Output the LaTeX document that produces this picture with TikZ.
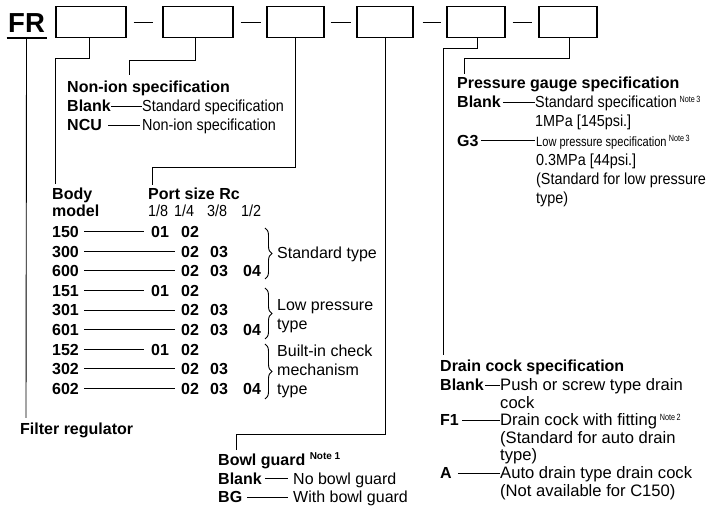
\documentclass[tikz,border=0pt]{standalone}
\usepackage{fontspec}
\usepackage{graphicx}
\setmainfont{Liberation Sans}
\newfontfamily\condfont[FakeStretch=0.9]{Liberation Sans}
\newfontfamily\notefont[FakeStretch=0.8]{Liberation Sans}
\usetikzlibrary{decorations.pathreplacing}
\newcommand\fReg{\fontsize{16}{19}\selectfont}
\newcommand\fBold{\fontsize{16}{19}\selectfont\bfseries}
\newcommand\fCond{\condfont\fontsize{16}{19}\selectfont}
\newcommand\fLow{\fontsize{13.5}{15}\selectfont}
\newcommand\fDrain{\fontsize{16.6}{19}\selectfont}
\newcommand\nt[1]{\,\raisebox{5pt}{\notefont\fontsize{9}{10}\selectfont #1}}
\newcommand\ntb[1]{\raisebox{6pt}{\fontsize{10}{11}\selectfont\bfseries #1}}
\tikzset{
  codebox/.style={draw, line width=1.1pt, minimum width=#1, minimum height=31pt, inner sep=0pt},
  tx/.style={anchor=base west, inner sep=0pt, text height=11.5pt, text depth=0pt},
  ln/.style={line width=0.9pt},
  brc/.style={line width=0.9pt, decorate, decoration={brace, amplitude=7pt}},
}
\begin{document}
\begin{tikzpicture}[x=1pt,y=-1pt]
\fill[white] (0,0) rectangle (713,510);
\useasboundingbox (0,0) rectangle (713,510);

% ---- top code line ----
\node[tx, font=\fontsize{27.5}{30}\selectfont\bfseries, inner xsep=1.5pt, inner ysep=5pt] (fr) at (6.5,33) {FR};
\draw[line width=1.5pt] (fr.south west) -- (fr.south east);
\node[codebox=70pt] (b1) at (91,22) {};
\node[codebox=70pt] (b2) at (198,22) {};
\node[codebox=57pt] (b3) at (295.5,22) {};
\node[codebox=56pt] (b4) at (385,22) {};
\node[codebox=58pt] (b5) at (476,22) {};
\node[codebox=58pt] (b6) at (568,22) {};
\draw[ln, shorten <=7pt, shorten >=9pt] (b1.east) -- (b2.west);
\draw[ln, shorten <=7pt, shorten >=5pt] (b2.east) -- (b3.west);
\draw[ln, shorten <=6pt, shorten >=5pt] (b3.east) -- (b4.west);
\draw[ln, shorten <=9pt, shorten >=5pt] (b4.east) -- (b5.west);
\draw[ln, shorten <=7pt, shorten >=6pt] (b5.east) -- (b6.west);

% ---- leader coordinates ----
\coordinate (e0) at (26,418);
\coordinate (k1) at (55,58);   \coordinate (e1) at (55,184);
\coordinate (k2) at (129,60);  \coordinate (e2) at (129,75);
\coordinate (k3) at (152,167); \coordinate (e3) at (152,185);
\coordinate (k4) at (236,434); \coordinate (e4) at (236,450);
\coordinate (k5) at (443,48);  \coordinate (e5) at (443,355);
\coordinate (k6) at (464,58);  \coordinate (e6) at (464,74);
\draw[ln] (fr.south) -- (e0);
\draw[ln] ([xshift=-2pt]b1.south) |- (k1) -- (e1);
\draw[ln] ([xshift=-3pt]b2.south) |- (k2) -- (e2);
\draw[ln] (b3.south) |- (k3) -- (e3);
\draw[ln] ([xshift=0.5pt]b4.south) |- (k4) -- (e4);
\draw[ln] ([xshift=1pt]b5.south) |- (k5) -- (e5);
\draw[ln] ([xshift=1pt]b6.south) |- (k6) -- (e6);

% ---- Non-ion specification ----
\node[tx, font=\fBold] (nih) at (67,93) {Non-ion specification};
\node[tx, font=\fBold] (nib) at (67,112) {Blank};
\node[tx, font=\fCond] (nibt) at (142,112) {Standard specification};
\node[tx, font=\fBold] (nin) at (67,131) {NCU};
\node[tx, font=\fCond] (nint) at (142,131) {Non-ion specification};
\draw[ln] ([xshift=0pt]nib.east) -- (nibt.west);
\draw[ln] ([xshift=6pt]nin.east) -- ([xshift=-2pt]nint.west);

% ---- Body model / Port size ----
\node[tx, font=\fBold] (body) at (52,200) {Body};
\node[tx, font=\fBold] (model) at (52,217) {model};
\node[tx, font=\fBold] (port) at (148,200) {Port size Rc};
\node[tx, font=\fCond] (h1) at (148,217) {1/8};
\node[tx, font=\fCond] (h2) at (174,217) {1/4};
\node[tx, font=\fCond] (h3) at (207,217) {3/8};
\node[tx, font=\fCond] (h4) at (241,217) {1/2};

% rows
\node[tx, font=\fBold] (m150) at (52,237.5) {150};
\node[tx, font=\fBold] (c150a) at (151,237.5) {01};
\node[tx, font=\fBold] (c150b) at (181,237.5) {02};
\draw[ln] ([xshift=5pt]m150.east) -- ([xshift=-7pt]c150a.west);

\node[tx, font=\fBold] (m300) at (52,257.1) {300};
\node[tx, font=\fBold] (c300a) at (181,257.1) {02};
\node[tx, font=\fBold] (c300b) at (210,257.1) {03};
\draw[ln] ([xshift=5pt]m300.east) -- ([xshift=-6pt]c300a.west);

\node[tx, font=\fBold] (m600) at (52,276.7) {600};
\node[tx, font=\fBold] (c600a) at (181,276.7) {02};
\node[tx, font=\fBold] (c600b) at (210,276.7) {03};
\node[tx, font=\fBold] (c600c) at (243,276.7) {04};
\draw[ln] ([xshift=5pt]m600.east) -- ([xshift=-6pt]c600a.west);

\node[tx, font=\fBold] (m151) at (52,296.3) {151};
\node[tx, font=\fBold] (c151a) at (151,296.3) {01};
\node[tx, font=\fBold] (c151b) at (181,296.3) {02};
\draw[ln] ([xshift=5pt]m151.east) -- ([xshift=-7pt]c151a.west);

\node[tx, font=\fBold] (m301) at (52,315.9) {301};
\node[tx, font=\fBold] (c301a) at (181,315.9) {02};
\node[tx, font=\fBold] (c301b) at (210,315.9) {03};
\draw[ln] ([xshift=5pt]m301.east) -- ([xshift=-6pt]c301a.west);

\node[tx, font=\fBold] (m601) at (52,335.5) {601};
\node[tx, font=\fBold] (c601a) at (181,335.5) {02};
\node[tx, font=\fBold] (c601b) at (210,335.5) {03};
\node[tx, font=\fBold] (c601c) at (243,335.5) {04};
\draw[ln] ([xshift=5pt]m601.east) -- ([xshift=-6pt]c601a.west);

\node[tx, font=\fBold] (m152) at (52,355.1) {152};
\node[tx, font=\fBold] (c152a) at (151,355.1) {01};
\node[tx, font=\fBold] (c152b) at (181,355.1) {02};
\draw[ln] ([xshift=5pt]m152.east) -- ([xshift=-7pt]c152a.west);

\node[tx, font=\fBold] (m302) at (52,374.7) {302};
\node[tx, font=\fBold] (c302a) at (181,374.7) {02};
\node[tx, font=\fBold] (c302b) at (210,374.7) {03};
\draw[ln] ([xshift=5pt]m302.east) -- ([xshift=-6pt]c302a.west);

\node[tx, font=\fBold] (m602) at (52,394.3) {602};
\node[tx, font=\fBold] (c602a) at (181,394.3) {02};
\node[tx, font=\fBold] (c602b) at (210,394.3) {03};
\node[tx, font=\fBold] (c602c) at (243,394.3) {04};
\draw[ln] ([xshift=5pt]m602.east) -- ([xshift=-6pt]c602a.west);

% braces
\draw[brc] (265,228) -- (265,279);
\draw[brc] (265,288) -- (265,339);
\draw[brc] (265,344) -- (265,399);
\node[tx, font=\fReg] (g1) at (277,259) {Standard type};
\node[tx, font=\fReg] (g2a) at (277,311) {Low pressure};
\node[tx, font=\fReg] (g2b) at (277,329.5) {type};
\node[tx, font=\fReg] (g3a) at (277,357) {Built-in check};
\node[tx, font=\fReg] (g3b) at (277,376) {mechanism};
\node[tx, font=\fReg] (g3c) at (277,395) {type};

% ---- Filter regulator ----
\node[tx, font=\fBold] (freg) at (20,435) {Filter regulator};

% ---- Bowl guard ----
\node[tx, font=\fBold] (bgh) at (218,466) {Bowl guard\ \ntb{Note 1}};
\node[tx, font=\fBold] (bgb) at (218,484.5) {Blank};
\node[tx, font=\fReg] (bgbt) at (293,484.5) {No bowl guard};
\node[tx, font=\fBold] (bgg) at (218,503) {BG};
\node[tx, font=\fReg] (bggt) at (293,503) {With bowl guard};
\draw[ln] ([xshift=3pt]bgb.east) -- ([xshift=-5pt]bgbt.west);
\draw[ln] ([xshift=5pt]bgg.east) -- ([xshift=-5pt]bggt.west);

% ---- Pressure gauge specification ----
\node[tx, font=\fBold] (pgh) at (457,89) {Pressure gauge specification};
\node[tx, font=\fBold] (pgb) at (457,108) {Blank};
\node[tx, font=\fCond] (pgbt) at (535,108) {Standard specification\nt{Note\,3}};
\node[tx, font=\fCond] (pgb2) at (535,127) {1MPa [145psi.]};
\node[tx, font=\fBold] (pgg) at (457,146.5) {G3};
\node[tx, font=\fLow] (pggt) at (536,146.5) {\scalebox{0.82}[1]{Low pressure specification}\nt{Note\,3}};
\node[tx, font=\fCond] (pgg2) at (536,166) {0.3MPa [44psi.]};
\node[tx, font=\fCond] (pgg3) at (536,185) {(Standard for low pressure};
\node[tx, font=\fCond] (pgg4) at (536,203.5) {type)};
\draw[ln] ([xshift=2pt]pgb.east) -- (pgbt.west);
\draw[ln] ([xshift=2.5pt]pgg.east) -- ([xshift=-1pt]pggt.west);

% ---- Drain cock specification ----
\node[tx, font=\fBold] (dch) at (440,372) {Drain cock specification};
\node[tx, font=\fBold] (dcb) at (440,391) {Blank};
\node[tx, font=\fDrain] (dcbt) at (500,391) {Push or screw type drain};
\node[tx, font=\fDrain] (dcb2) at (500,408.5) {cock};
\node[tx, font=\fBold] (dcf) at (440,426) {F1};
\node[tx, font=\fDrain] (dcft) at (500,426) {Drain cock with fitting\nt{Note\,2}};
\node[tx, font=\fDrain] (dcf2) at (500,443.5) {(Standard for auto drain};
\node[tx, font=\fDrain] (dcf3) at (500,461) {type)};
\node[tx, font=\fBold] (dca) at (440,479) {A};
\node[tx, font=\fDrain] (dcat) at (500,479) {Auto drain type drain cock};
\node[tx, font=\fDrain] (dca2) at (500,496.5) {(Not available for C150)};
\draw[ln] ([xshift=1.5pt]dcb.east) -- (dcbt.west);
\draw[ln] ([xshift=3pt]dcf.east) -- (dcft.west);
\draw[ln] ([xshift=6pt]dca.east) -- (dcat.west);
\end{tikzpicture}
\end{document}
